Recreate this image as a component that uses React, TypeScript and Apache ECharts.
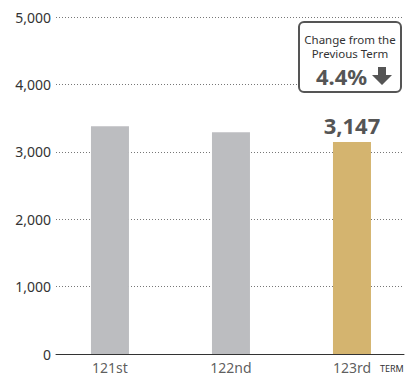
import React, { useEffect, useRef } from "react";
import * as echarts from "echarts";

const categories = ["121st", "122nd", "123rd"];
const values = [3380, 3290, 3147];
const highlightIndex = 2;
const yTicks = [0, 1000, 2000, 3000, 4000, 5000];
const changeLines = ["Change from the", "Previous Term"];
const changeValue = "4.4%";
const unitLabel = "TERM";

echarts.graphic.registerShape(
  "downArrow",
  echarts.graphic.extendPath("M6,0 H14 V8 H20 L10,18 L0,8 H6 Z", {})
);

export default function App() {
  const ref = useRef<HTMLDivElement>(null);
  useEffect(() => {
    if (!ref.current) return;
    const chart = echarts.init(ref.current, undefined, { renderer: "svg" });
    const font = "'Noto Sans', sans-serif";
    const gray = "#bcbdc0";
    const gold = "#d4b46f";
    chart.setOption({
      animation: false,
      textStyle: { fontFamily: font },
      grid: { left: 56, right: 2, top: 17, bottom: 22 },
      xAxis: {
        type: "value",
        min: -0.446,
        max: 2.43,
        axisLine: { show: true, lineStyle: { color: "#333", width: 1 } },
        axisTick: { show: false },
        axisLabel: { show: false },
        splitLine: { show: false },
      },
      yAxis: {
        type: "value",
        min: yTicks[0],
        max: yTicks[yTicks.length - 1],
        interval: 1000,
        axisLine: { show: false },
        axisTick: { show: false },
        axisLabel: {
          margin: 5,
          color: "#333",
          fontSize: 14,
          fontFamily: font,
          formatter: (v: number) => v.toLocaleString("en-US"),
        },
        splitLine: {
          show: true,
          lineStyle: { type: [1, 2], color: "#777", width: 1 },
        },
      },
      series: [
        {
          type: "bar",
          barWidth: 38,
          data: values.map((v, i) => ({
            value: [i, v],
            itemStyle: { color: i === highlightIndex ? gold : gray },
            label:
              i === highlightIndex
                ? {
                    show: true,
                    position: "top",
                    distance: 6,
                    formatter: () => v.toLocaleString("en-US"),
                    color: "#555",
                    fontSize: 22,
                    fontWeight: "bold",
                    fontFamily: font,
                  }
                : { show: false },
          })),
        },
        {
          type: "scatter",
          symbolSize: 0,
          silent: true,
          data: categories.map((c, i) => ({ value: [i, 0], name: c })),
          label: {
            show: true,
            position: "bottom",
            distance: 6,
            formatter: (p: any) => p.name,
            color: "#333",
            fontSize: 14,
            fontFamily: font,
          },
        },
      ],
      graphic: [
        {
          type: "text",
          left: 380,
          top: 364,
          style: { text: unitLabel, fontSize: 9, fill: "#333", fontFamily: font },
        },
        {
          type: "rect",
          z: 100,
          shape: { x: 299, y: 22, width: 102, height: 70, r: 5 },
          style: { fill: "#fff", stroke: "#555", lineWidth: 2 },
        },
        {
          type: "text",
          z: 101,
          x: 350,
          y: 46,
          style: {
            text: changeLines.join("\n"),
            fontSize: 11.5,
            lineHeight: 14,
            fill: "#333",
            fontFamily: font,
            align: "center",
            verticalAlign: "middle",
          },
        },
        {
          type: "text",
          z: 101,
          x: 316,
          y: 76,
          style: {
            text: changeValue,
            fontSize: 22,
            fontWeight: "bold",
            fill: "#555",
            fontFamily: font,
            align: "left",
            verticalAlign: "middle",
          },
        },
        {
          type: "downArrow",
          z: 101,
          x: 372,
          y: 67,
          scaleX: 1,
          scaleY: 1,
          style: { fill: "#555" },
        },
      ],
    });
    return () => chart.dispose();
  }, []);
  return (
    <div
      ref={ref}
      style={{ position: "absolute", left: 0, top: 0, width: 406, height: 376 }}
    />
  );
}
